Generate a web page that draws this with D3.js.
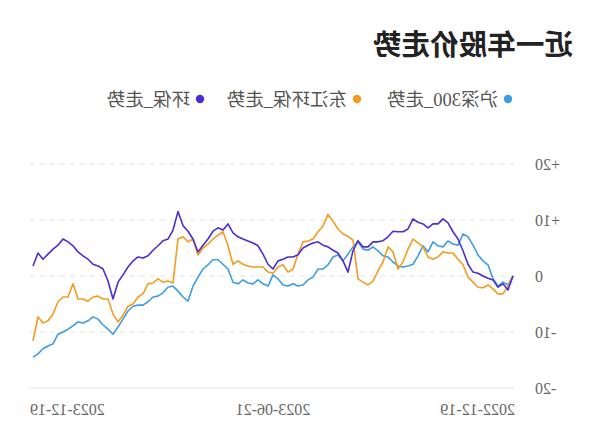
<!DOCTYPE html>
<html><head><meta charset="utf-8">
<script src="https://cdn.jsdelivr.net/npm/d3@7"></script>
<style>html,body{margin:0;padding:0;background:#fff;}svg{display:block;}</style>
</head><body>
<div id="chart"></div>
<script>
const title = "近一年股价走势";
const seriesNames = ["沪深300_走势", "东江环保_走势", "环保_走势"];
const seriesColors = ["#3d9de3", "#f39c1f", "#4a2fd0"];
const xTickLabels = ["2022-12-19", "2023-06-21", "2023-12-19"];
const yTicks = [20, 10, 0, -10, -20];
const yTickLabels = ["+20", "+10", "0", "-10", "-20"];

const hs300 = [0,-1.6,-1.1,-1.8,-0.5,2.0,2.7,3.75,5.5,7.0,7.5,5.5,5.7,6.25,5.2,5.4,6.1,4.3,5.4,3.6,2.1,1.8,1.6,1.8,2.5,3.4,3.6,4.5,5.2,4.6,4.8,6.1,5.2,3.9,2.7,3.75,3.4,2.0,1.25,1.25,-0.2,-0.7,-1.6,-1.8,-1.4,-1.8,-1.6,-0.5,0.2,-1.8,-1.4,-0.7,-1.4,-1.25,-0.7,-1.4,-1.1,1.25,2.1,2.9,2.9,2.0,1.25,-0.2,-1.8,-4.5,-3.75,-2.7,-1.8,-2.0,-3.0,-3.6,-3.75,-4.6,-5.2,-5.2,-5.4,-6.25,-7.7,-9.1,-10.4,-9.5,-8.75,-7.7,-7.3,-8.0,-8.4,-8.2,-8.9,-9.5,-10.0,-10.4,-12.1,-12.5,-13.0,-13.9,-14.5];
const djhb = [0,-1.8,-3.2,-3.2,-2.3,-1.6,-2.1,-2.0,-1.1,-0.2,2.0,3.0,4.1,4.1,4.3,3.4,3.0,3.4,5.2,5.9,6.6,4.8,2.5,1.25,4.3,5.2,2.5,0.9,-0.9,-1.6,-1.1,-0.5,6.4,7.1,7.5,8.4,9.8,11.0,8.9,7.9,6.6,6.25,6.1,3.9,1.25,0.7,2.0,1.6,0.5,0.7,1.6,1.6,1.6,1.8,2.1,2.7,2.1,5.4,7.9,7.3,6.6,5.7,5.0,3.75,6.6,6.1,7.0,6.6,-1.25,-0.9,-1.1,-0.5,-1.25,-1.4,-3.2,-3.75,-5.0,-5.4,-7.0,-8.2,-6.8,-4.1,-4.1,-3.6,-3.75,-4.5,-4.1,-4.1,-1.4,-3.75,-3.75,-4.6,-6.8,-8.0,-8.4,-7.3,-11.6];
const hb = [0,-2.5,-1.4,-2.0,-0.7,-0.4,0,0.5,0.7,2.1,4.5,6.6,7.9,9.5,10.2,9.3,9.3,8.6,9.3,9.6,10.2,8.4,7.9,7.9,8.0,7.0,6.3,6.1,6.1,5.2,5.2,6.3,4.5,0.7,2.7,4.1,4.6,5.2,5.5,6.1,5.9,5.5,5.0,3.8,3.4,3.4,3.0,2.7,1.25,2.1,3.9,5.4,5.9,6.25,6.6,7.0,7.7,9.3,8.2,8.6,8.0,6.6,5.5,4.3,6.6,8.0,9.0,11.5,8.2,6.6,6.3,5.4,4.6,3.6,3.2,3.4,2.7,1.6,0.2,-1.1,-4.1,-0.9,1.25,1.8,2.1,3.0,3.6,4.3,5.4,6.1,6.6,5.5,4.8,3.9,3.0,4.1,1.8];
const seriesData = [hs300, djhb, hb];

const W = 600, H = 446;
const svg = d3.select("#chart").append("svg").attr("width", W).attr("height", H);
// the reference picture is horizontally mirrored
const root = svg.append("g").attr("transform", `translate(${W},0) scale(-1,1)`);

const n = hs300.length;
const x = d3.scaleLinear().domain([0, n - 1]).range([87, 567]);
const y = d3.scaleLinear().domain([-20, 20]).range([388, 164]);

const serifFont = "'Liberation Serif','Noto Sans CJK SC',serif";

// title
root.append("text").attr("x", 27).attr("y", 55)
  .attr("font-family", "'Noto Sans CJK SC',sans-serif").attr("font-weight", "bold")
  .attr("font-size", 28.6).attr("fill", "#222").text(title);

// legend
const legendDotX = [92, 243, 400];
const lg = root.append("g");
seriesNames.forEach((name, i) => {
  lg.append("circle").attr("cx", legendDotX[i]).attr("cy", 99).attr("r", 4.2).attr("fill", seriesColors[i]);
  lg.append("text").attr("x", legendDotX[i] + 10).attr("y", 99).attr("dy", "0.36em")
    .attr("font-family", "'Liberation Serif','Noto Sans CJK SC',sans-serif").attr("font-size", 18.5)
    .attr("fill", "#555").text(name);
});

// grid
const grid = root.append("g");
yTicks.forEach(t => {
  grid.append("line").attr("x1", 85).attr("x2", 572).attr("y1", y(t)).attr("y2", y(t))
    .attr("stroke", t === -20 ? "#e6e6e6" : "#e3e3e3").attr("stroke-width", 1)
    .attr("stroke-dasharray", t === -20 ? null : "5,5");
});

// y axis labels
const yAxis = d3.axisLeft(y).tickValues(yTicks).tickSize(0)
  .tickFormat((d, i) => yTickLabels[i]);
const ya = root.append("g").attr("transform", "translate(65,0)").call(yAxis);
ya.select(".domain").remove();
ya.selectAll("text").attr("font-family", serifFont).attr("font-size", 16).attr("fill", "#666").attr("x", 0);

// x axis labels
const xTickIdx = [0, (n - 1) / 2, n - 1];
const xAnchors = ["start", "middle", "end"];
const xOffsets = [-2, 0, 3];
const xa = root.append("g");
xTickLabels.forEach((lab, i) => {
  xa.append("text").attr("x", x(xTickIdx[i]) + xOffsets[i]).attr("y", 415)
    .attr("text-anchor", xAnchors[i]).attr("font-family", serifFont)
    .attr("font-size", 16).attr("fill", "#666").text(lab);
});

// lines
const line = d3.line().x((d, i) => x(i)).y(d => y(d)).curve(d3.curveLinear);
seriesData.forEach((s, i) => {
  root.append("path").datum(s).attr("d", line).attr("fill", "none")
    .attr("stroke", seriesColors[i]).attr("stroke-width", 1.6)
    .attr("stroke-linejoin", "round");
});
</script>
</body></html>
